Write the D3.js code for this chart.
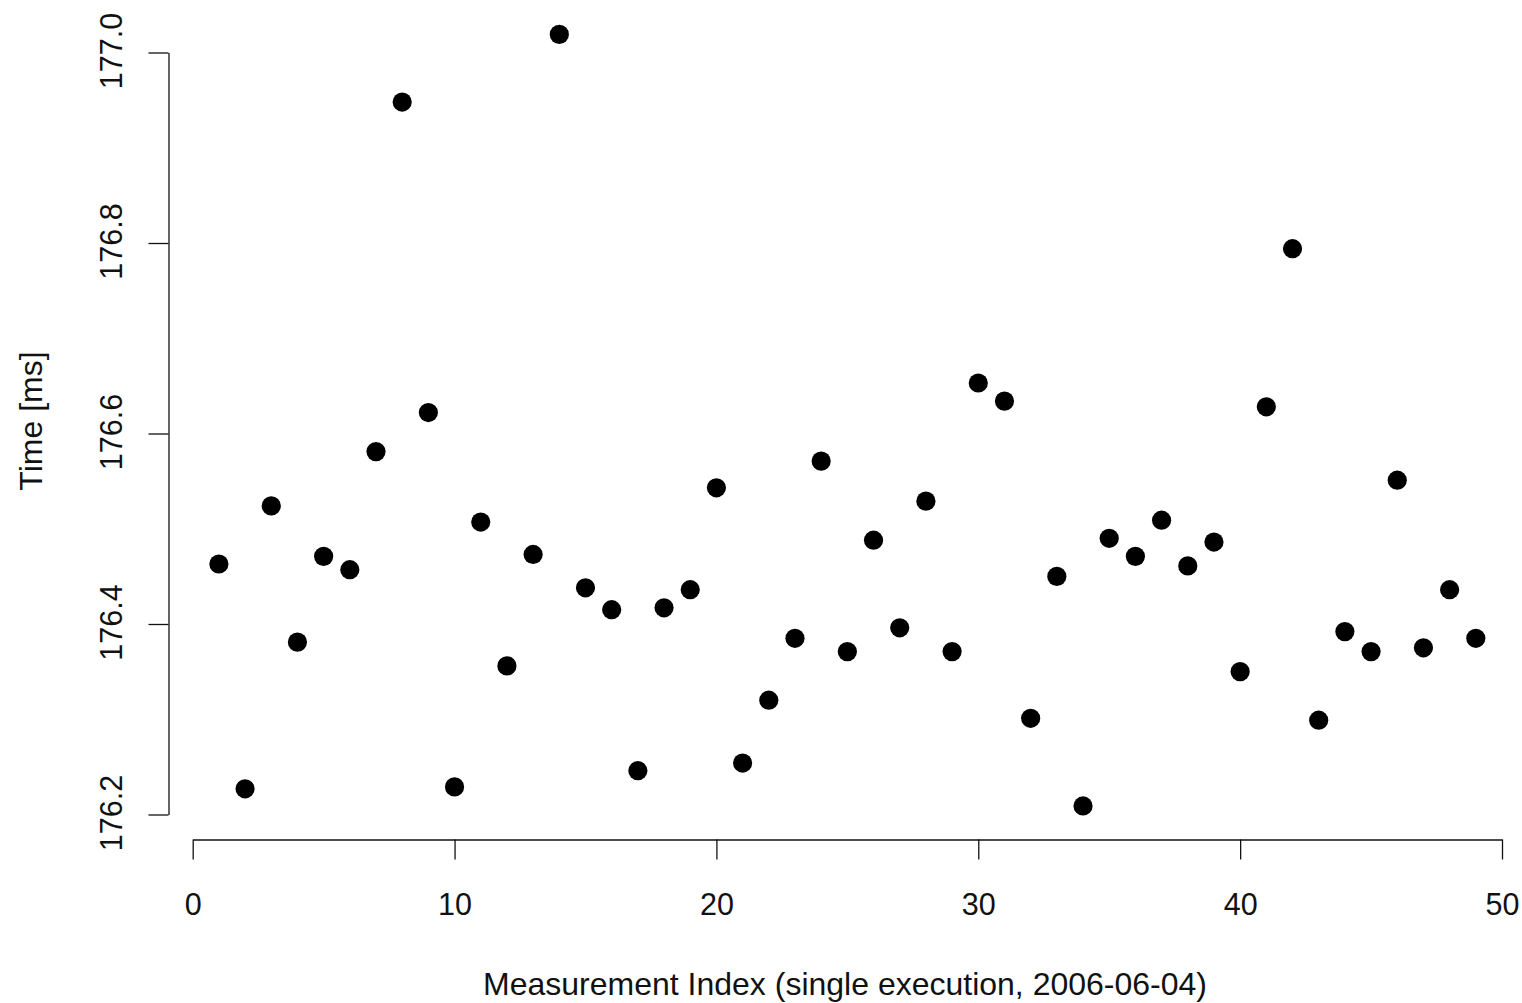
<!DOCTYPE html>
<html>
<head>
<meta charset="utf-8">
<script src="https://cdn.jsdelivr.net/npm/d3@7"></script>
<style>
  body { margin: 0; background: #fff; }
  svg { display: block; }
</style>
</head>
<body>
<div id="chart"></div>
<script>
var indices = [1,2,3,4,5,6,7,8,9,10,11,12,13,14,15,16,17,18,19,20,21,22,23,24,25,
               26,27,28,29,30,31,32,33,34,35,36,37,38,39,40,41,42,43,44,45,46,47,48,49];
var times = [176.463,176.227,176.524,176.381,176.471,176.457,176.581,176.948,176.622,176.229,
             176.507,176.356,176.473,177.019,176.438,176.415,176.246,176.417,176.436,176.543,
             176.254,176.320,176.385,176.571,176.371,176.488,176.396,176.529,176.371,176.653,
             176.634,176.301,176.450,176.209,176.490,176.471,176.509,176.461,176.486,176.350,
             176.628,176.794,176.299,176.392,176.371,176.551,176.375,176.436,176.385];
var xTicks = [0,10,20,30,40,50];
var yTicks = [176.2,176.4,176.6,176.8,177.0];
var xLabel = "Measurement Index (single execution, 2006-06-04)";
var yLabel = "Time [ms]";

var width = 1522, height = 1003;
var font = "'Liberation Sans', Helvetica, Arial, sans-serif";

var svg = d3.select("#chart").append("svg")
    .attr("width", width)
    .attr("height", height);

// scales
var x = d3.scaleLinear().domain([0, 50]).range([192.7, 1502]);
var y = d3.scaleLinear().domain([176.2, 177.0]).range([814.5, 52.5]);

// x axis (R style, detached from the plot)
var xAxis = d3.axisBottom(x)
    .tickValues(xTicks)
    .tickFormat(d3.format("d"))
    .tickSize(20)
    .tickSizeOuter(0);

var gx = svg.append("g")
    .attr("transform", "translate(0,839.5)")
    .call(xAxis);
gx.attr("font-family", font).attr("font-size", 30.5);
gx.selectAll("path, line").attr("stroke", "#111").attr("stroke-width", 1.3);
gx.selectAll("text")
    .attr("fill", "#111")
    .attr("y", 75.5)
    .attr("dy", 0);

// y axis with labels parallel to the axis
var yAxis = d3.axisLeft(y)
    .tickValues(yTicks)
    .tickFormat(d3.format(".1f"))
    .tickSize(20)
    .tickSizeOuter(0);

var gy = svg.append("g")
    .attr("transform", "translate(168.5,0)")
    .call(yAxis);
gy.attr("font-family", font).attr("font-size", 30.5);
gy.selectAll("path, line").attr("stroke", "#111").attr("stroke-width", 1.3);
gy.selectAll("text")
    .attr("fill", "#111")
    .attr("transform", "rotate(-90)")
    .attr("x", 2)
    .attr("y", -46.5)
    .attr("dy", 0)
    .attr("text-anchor", "middle");

// points
svg.append("g").selectAll("circle")
    .data(indices)
    .enter().append("circle")
    .attr("cx", function(d){ return x(d); })
    .attr("cy", function(d, i){ return y(times[i]); })
    .attr("r", 9.6)
    .attr("fill", "#000");

// axis titles
svg.append("text")
    .attr("x", 845)
    .attr("y", 995)
    .attr("text-anchor", "middle")
    .attr("font-family", font)
    .attr("font-size", 32)
    .attr("fill", "#111")
    .text(xLabel);

svg.append("text")
    .attr("transform", "translate(42,421) rotate(-90)")
    .attr("text-anchor", "middle")
    .attr("font-family", font)
    .attr("font-size", 32)
    .attr("fill", "#111")
    .text(yLabel);
</script>
</body>
</html>
